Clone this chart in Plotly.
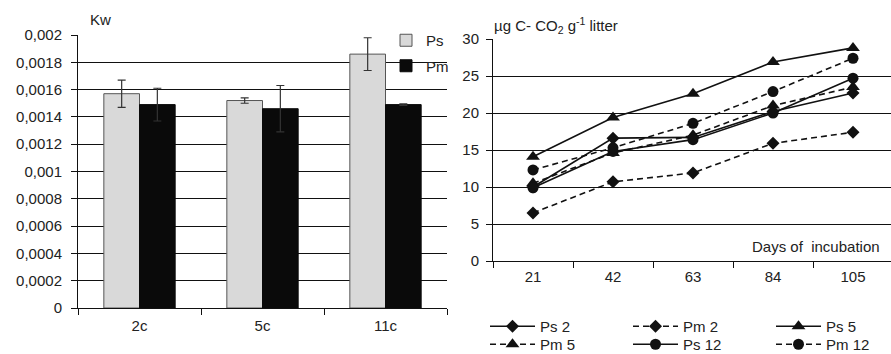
import plotly.graph_objects as go

# ---- Left chart data (Kw) ----
bar_categories = ["2c", "5c", "11c"]
kw_ps = [0.00157, 0.00152, 0.00186]
kw_ps_err = [0.0001, 0.00002, 0.00012]
kw_pm = [0.00149, 0.00146, 0.00149]
kw_pm_err = [0.00012, 0.00017, 0.000005]
kw_ticks = [0, 0.0002, 0.0004, 0.0006, 0.0008, 0.001, 0.0012, 0.0014, 0.0016, 0.0018, 0.002]

# ---- Right chart data (CO2) ----
days = ["21", "42", "63", "84", "105"]
ps2 = [10.0, 16.6, 16.7, 20.2, 22.7]
pm2 = [6.5, 10.7, 11.9, 15.9, 17.4]
ps5 = [14.1, 19.4, 22.6, 26.9, 28.8]
pm5 = [10.5, 14.6, 17.0, 21.0, 23.5]
ps12 = [9.9, 14.8, 16.4, 20.0, 24.7]
pm12 = [12.3, 15.3, 18.6, 22.9, 27.4]
co2_ticks = [0, 5, 10, 15, 20, 25, 30]

FONT = "Liberation Sans, Arial, sans-serif"
TXT = "#222222"
W, H = 891, 354

fig = go.Figure()

fig.add_trace(go.Bar(
    x=bar_categories, y=kw_ps, name="Ps",
    marker=dict(color="#d9d9d9", line=dict(color="#555555", width=1)),
    error_y=dict(type="data", array=kw_ps_err, color="#333333", thickness=1.2, width=4),
    xaxis="x", yaxis="y", legend="legend3", legendgroup="a",
))
fig.add_trace(go.Bar(
    x=bar_categories, y=kw_pm, name="Pm",
    marker=dict(color="#0a0a0a", line=dict(color="#0a0a0a", width=1)),
    error_y=dict(type="data", array=kw_pm_err, color="#333333", thickness=1.2, width=4),
    xaxis="x", yaxis="y", legend="legend3", legendgroup="b",
))

DASH = "6px,4px"
series = [
    ("Ps 2", ps2, "solid", "diamond", 10, "legend"),
    ("Pm 2", pm2, DASH, "diamond", 10, "legend"),
    ("Ps 5", ps5, "solid", "triangle-up", 12, "legend"),
    ("Pm 5", pm5, DASH, "triangle-up", 12, "legend2"),
    ("Ps 12", ps12, "solid", "circle", 11, "legend2"),
    ("Pm 12", pm12, DASH, "circle", 11, "legend2"),
]
for name, vals, dash, sym, size, leg in series:
    fig.add_trace(go.Scatter(
        x=days, y=vals, name=name, mode="lines+markers",
        line=dict(color="#111111", width=1.6, dash=dash),
        marker=dict(symbol=sym, size=size, color="#111111"),
        xaxis="x2", yaxis="y2", legend=leg,
    ))

axis_common = dict(
    showline=True, linecolor="#111111", linewidth=1,
    ticks="outside", tickcolor="#111111", ticklen=6,
    tickfont=dict(family=FONT, size=15, color=TXT),
    zeroline=False, fixedrange=True,
)

legend_font = dict(family=FONT, size=15, color=TXT)

fig.update_layout(
    width=W, height=H,
    margin=dict(l=0, r=0, t=0, b=0, autoexpand=False),
    paper_bgcolor="white", plot_bgcolor="white",
    separators=", ",
    barmode="group", bargap=0.42, bargroupgap=0,
    font=dict(family=FONT, size=15, color=TXT),
    xaxis=dict(
        domain=[78 / W, 447 / W], type="category", tickson="boundaries",
        showgrid=False, ticklabelstandoff=4, **axis_common,
    ),
    yaxis=dict(
        domain=[46 / H, 319 / H], range=[0, 0.002], tickvals=kw_ticks,
        tickformat=".4~f", showgrid=True, gridcolor="#111111", gridwidth=1,
        ticklabelstandoff=6, **axis_common,
    ),
    xaxis2=dict(
        domain=[493 / W, 1], type="category", range=[-0.5, 4.475], tickson="boundaries",
        showgrid=False, anchor="y2", ticklabelstandoff=2, **axis_common,
    ),
    yaxis2=dict(
        domain=[93 / H, 315 / H], range=[0, 30], tickvals=co2_ticks,
        showgrid=True, gridcolor="#111111", gridwidth=1, anchor="x2",
        ticklabelstandoff=4, **axis_common,
    ),
    legend=dict(
        orientation="h", x=485 / W, xanchor="left", y=1 - 310 / H, yanchor="top",
        entrywidth=83, font=legend_font, bgcolor="rgba(0,0,0,0)", itemwidth=45,
    ),
    legend2=dict(
        orientation="h", x=485 / W, xanchor="left", y=1 - 328 / H, yanchor="top",
        entrywidth=83, font=legend_font, bgcolor="rgba(0,0,0,0)", itemwidth=45,
    ),
    legend3=dict(
        orientation="v", x=386 / W, xanchor="left", y=1 - 24 / H, yanchor="top",
        font=legend_font, bgcolor="rgba(0,0,0,0)",
        tracegroupgap=3, itemwidth=30,
    ),
    annotations=[
        dict(text="Kw", x=88 / W, y=1 - 19 / H, xref="paper", yref="paper",
             xanchor="left", yanchor="middle", showarrow=False,
             font=dict(family=FONT, size=15, color=TXT)),
        dict(text="µg C- CO<sub>2</sub> g<sup>-1</sup> litter", x=492 / W, y=1 - 26 / H,
             xref="paper", yref="paper", xanchor="left", yanchor="middle", showarrow=False,
             font=dict(family=FONT, size=15, color=TXT)),
        dict(text="Days of  incubation", x=882 / W, y=1 - 247 / H, xref="paper", yref="paper",
             xanchor="right", yanchor="middle", showarrow=False,
             font=dict(family=FONT, size=15, color=TXT)),
    ],
)

fig.write_html("out.html")
